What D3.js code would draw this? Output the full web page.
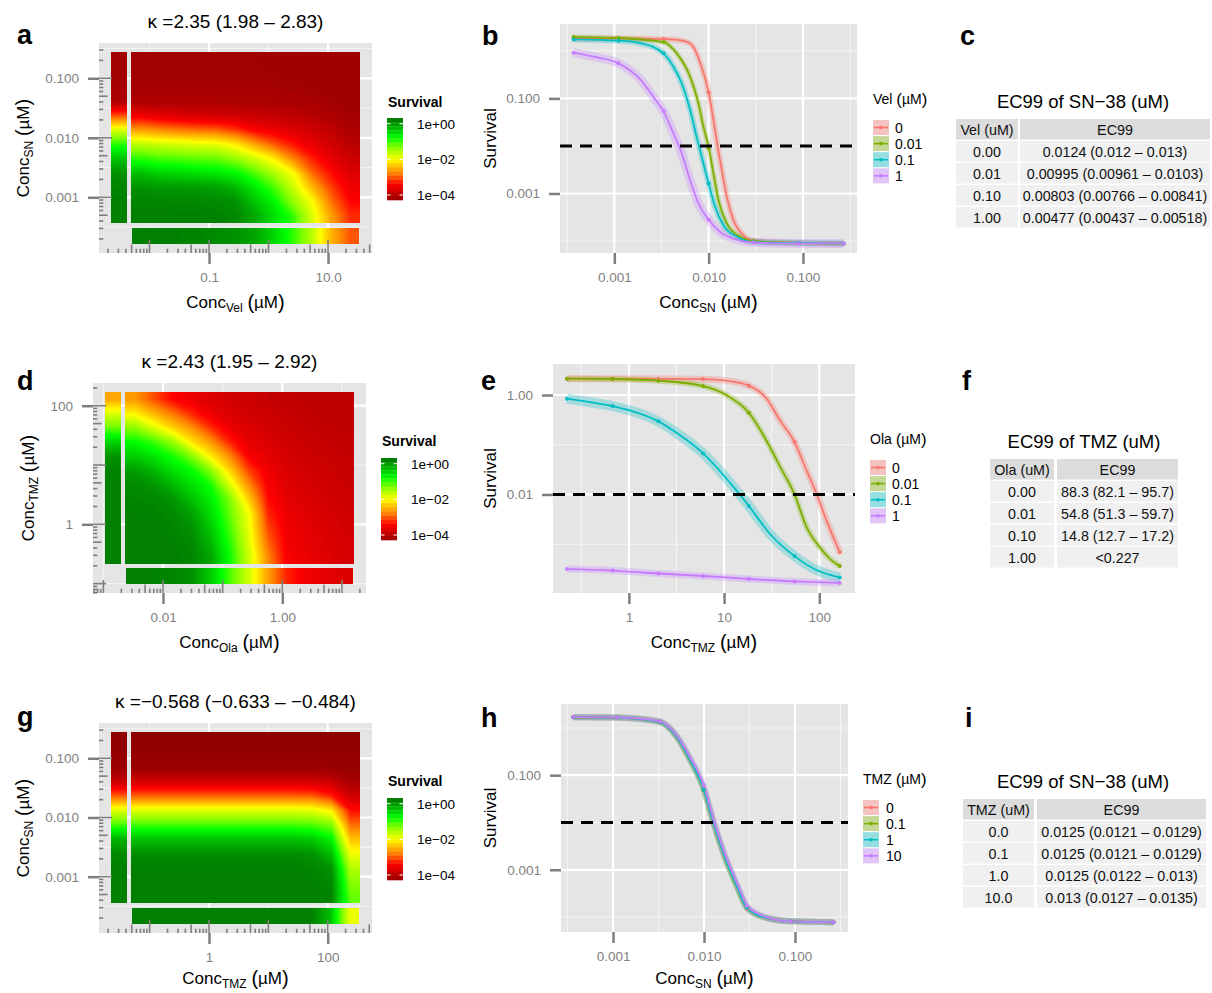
<!DOCTYPE html>
<html>
<head>
<meta charset="utf-8">
<script src="https://cdn.jsdelivr.net/npm/d3@7"></script>
<style>
  body { margin: 0; background: #fff; }
  text { font-family: "Liberation Sans", Arial, Helvetica, sans-serif; }
</style>
</head>
<body>
<svg id="fig" width="1212" height="993"></svg>
<script>
// ---------------- data ----------------
// heatmaps: log10(survival). rows = top (high conc) -> bottom, cols = left (low conc) -> right
var heatA = [
  [-4.2,-4.2,-4.2,-4.2,-4.2,-4.2,-4.22,-4.25,-4.25,-4.27,-4.28,-4.3],
  [-4.2,-4.2,-4.2,-4.2,-4.2,-4.2,-4.2,-4.22,-4.23,-4.25,-4.27,-4.3],
  [-4.17,-4.17,-4.17,-4.17,-4.17,-4.17,-4.17,-4.18,-4.2,-4.22,-4.25,-4.28],
  [-4.12,-4.12,-4.12,-4.12,-4.12,-4.12,-4.12,-4.12,-4.14,-4.16,-4.2,-4.25],
  [-3.5,-3.62,-3.68,-3.74,-3.78,-3.8,-3.87,-3.92,-3.96,-4.02,-4.1,-4.2],
  [-2.6,-2.7,-2.8,-2.87,-2.92,-3.12,-3.42,-3.54,-3.7,-3.8,-3.95,-4.1],
  [-1.6,-1.7,-1.75,-1.82,-1.87,-2.11,-2.55,-2.97,-3.3,-3.6,-3.8,-4.0],
  [-0.95,-1.05,-1.1,-1.15,-1.18,-1.4,-1.72,-2.1,-2.75,-3.25,-3.6,-3.85],
  [-0.3,-0.45,-0.5,-0.58,-0.62,-0.76,-1.1,-1.52,-2.0,-2.9,-3.35,-3.7],
  [0.05,0.0,0.0,-0.02,-0.05,-0.26,-0.65,-1.08,-1.7,-2.44,-3.1,-3.55],
  [0.15,0.15,0.13,0.12,0.1,0.05,-0.35,-0.75,-1.4,-2.0,-2.85,-3.4],
  [0.2,0.2,0.2,0.2,0.18,0.12,-0.12,-0.55,-1.0,-1.8,-2.6,-3.2]
];
var heatAVel0 = [-4.2,-4.2,-4.17,-4.1,-3.0,-1.76,-0.92,-0.32,0.05,0.15,0.2,0.2];
var heatASn0 = [0.2,0.2,0.18,0.15,0.1,0.05,-0.1,-0.48,-0.98,-1.6,-2.45,-3.0];

var heatD = [
  [-2.65,-3.03,-3.4,-3.55,-3.7,-3.8,-3.85,-3.9,-3.92,-3.95,-3.97,-3.98],
  [-2.06,-2.46,-2.84,-3.23,-3.55,-3.7,-3.8,-3.85,-3.9,-3.93,-3.95,-3.97],
  [-1.36,-1.8,-2.27,-2.69,-3.18,-3.55,-3.7,-3.8,-3.87,-3.9,-3.93,-3.95],
  [-0.78,-1.02,-1.42,-2.14,-2.63,-3.24,-3.6,-3.72,-3.82,-3.87,-3.9,-3.93],
  [-0.4,-0.59,-0.87,-1.31,-2.09,-2.73,-3.45,-3.62,-3.77,-3.83,-3.87,-3.9],
  [-0.03,-0.23,-0.54,-0.8,-1.34,-2.26,-3.1,-3.53,-3.72,-3.79,-3.84,-3.88],
  [0.1,0.03,-0.24,-0.56,-0.86,-1.78,-2.71,-3.45,-3.67,-3.75,-3.81,-3.86],
  [0.15,0.12,0.02,-0.31,-0.68,-1.3,-2.31,-3.35,-3.62,-3.71,-3.78,-3.83],
  [0.18,0.17,0.1,-0.07,-0.54,-1.19,-1.97,-3.22,-3.57,-3.67,-3.75,-3.81],
  [0.2,0.2,0.15,0.05,-0.39,-1.07,-1.9,-3.07,-3.53,-3.63,-3.72,-3.79],
  [0.2,0.2,0.18,0.12,-0.24,-0.95,-1.82,-2.92,-3.5,-3.6,-3.7,-3.77],
  [0.2,0.2,0.2,0.15,-0.1,-0.84,-1.72,-2.75,-3.47,-3.57,-3.67,-3.75]
];
var heatDOla0 = [-2.55,-1.8,-1.2,-0.45,0.05,0.15,0.2,0.2,0.2,0.2,0.2,0.2];
var heatDTmz0 = [0.2,0.18,0.15,0.05,-0.4,-1.1,-1.75,-2.6,-3.25,-3.5,-3.62,-3.7];

var heatG = [
  [-4.5,-4.5,-4.5,-4.5,-4.5,-4.5,-4.5,-4.5,-4.5,-4.5,-4.5,-4.5],
  [-4.45,-4.45,-4.45,-4.45,-4.45,-4.45,-4.45,-4.45,-4.45,-4.45,-4.45,-4.45],
  [-4.3,-4.3,-4.3,-4.3,-4.3,-4.3,-4.3,-4.3,-4.3,-4.3,-4.32,-4.38],
  [-3.77,-3.77,-3.77,-3.77,-3.77,-3.77,-3.77,-3.77,-3.77,-3.78,-3.85,-4.15],
  [-2.94,-2.94,-2.94,-2.94,-2.94,-2.94,-2.94,-2.94,-2.94,-2.97,-3.24,-3.8],
  [-1.82,-1.82,-1.82,-1.82,-1.82,-1.82,-1.82,-1.82,-1.82,-1.86,-2.12,-3.35],
  [-1.07,-1.07,-1.07,-1.07,-1.07,-1.07,-1.07,-1.07,-1.07,-1.12,-1.3,-2.9],
  [-0.33,-0.33,-0.33,-0.33,-0.33,-0.33,-0.33,-0.33,-0.33,-0.4,-0.72,-2.4],
  [0.08,0.08,0.08,0.08,0.08,0.08,0.08,0.08,0.08,0.02,-0.33,-1.95],
  [0.18,0.18,0.18,0.18,0.18,0.18,0.18,0.18,0.18,0.14,0.02,-1.6],
  [0.2,0.2,0.2,0.2,0.2,0.2,0.2,0.2,0.2,0.18,0.12,-1.35],
  [0.2,0.2,0.2,0.2,0.2,0.2,0.2,0.2,0.2,0.2,0.15,-1.2]
];
var heatGTmz0 = [-4.5,-4.45,-4.3,-3.85,-2.95,-1.82,-1.07,-0.2,0.1,0.2,0.2,0.2];
var heatGSn0 = [0.2,0.2,0.2,0.2,0.2,0.2,0.2,0.2,0.2,0.18,-0.3,-1.9];

// panel b: SN-38 dose response at four Vel levels (log10 conc, log10 survival)
var velLevels = ["0", "0.01", "0.1", "1"];
var bDoseLog = [-3.432, -2.955, -2.477, -2.0, -1.523, -1.046, -0.569];
var bMean0 = [0.255, 0.255, 0.248, -0.874, -4.0, -4.04, -4.05];
var bMean1 = [0.29, 0.27, 0.185, -2.05, -4.0, -4.04, -4.05];
var bMean2 = [0.24, 0.213, -0.053, -2.79, -4.02, -4.04, -4.05];
var bMean3 = [-0.04, -0.263, -1.267, -3.55, -4.03, -4.05, -4.05];
var bFit0 = [[-3.43,0.255],[-2.7,0.255],[-2.4,0.24],[-2.232,0.19],[-2.161,0.08],[-2.09,-0.25],[-2.0,-0.874],[-1.949,-1.457],[-1.906,-2.0],[-1.86,-2.51],[-1.807,-3.07],[-1.737,-3.56],[-1.63,-3.88],[-1.52,-4.0],[-1.05,-4.04],[-0.57,-4.05]];
var bFit1 = [[-3.43,0.29],[-2.955,0.27],[-2.48,0.185],[-2.338,-0.053],[-2.196,-0.545],[-2.108,-1.105],[-2.055,-1.6],[-2.0,-2.02],[-1.949,-2.58],[-1.896,-3.14],[-1.807,-3.63],[-1.666,-3.91],[-1.52,-4.0],[-1.05,-4.04],[-0.57,-4.05]];
var bFit2 = [[-3.43,0.24],[-2.955,0.213],[-2.718,0.158],[-2.48,-0.053],[-2.373,-0.335],[-2.285,-0.684],[-2.196,-1.246],[-2.119,-1.878],[-2.055,-2.37],[-2.0,-2.79],[-1.931,-3.28],[-1.843,-3.67],[-1.701,-3.91],[-1.52,-4.02],[-1.05,-4.04],[-0.57,-4.05]];
var bFit3 = [[-3.43,-0.04],[-3.22,-0.124],[-2.955,-0.263],[-2.718,-0.615],[-2.586,-0.966],[-2.48,-1.267],[-2.373,-1.737],[-2.285,-2.158],[-2.196,-2.72],[-2.108,-3.21],[-2.0,-3.55],[-1.878,-3.81],[-1.701,-3.97],[-1.52,-4.03],[-1.05,-4.05],[-0.57,-4.05]];

// panel e: TMZ dose response at four Ola levels
var olaLevels = ["0", "0.01", "0.1", "1"];
var eDoseLog = [-0.65, -0.17, 0.31, 0.78, 1.26, 1.74, 2.215];
var eMean0 = [0.329, 0.329, 0.322, 0.322, 0.188, -0.947, -3.16];
var eMean1 = [0.329, 0.322, 0.289, 0.181, -0.356, -2.0, -3.44];
var eMean2 = [-0.074, -0.222, -0.53, -1.175, -2.23, -3.24, -3.67];
var eMean3 = [-3.5, -3.53, -3.59, -3.64, -3.7, -3.75, -3.78];
var eFit0 = [[-0.65,0.329],[0.3,0.325],[0.78,0.318],[1.025,0.289],[1.26,0.188],[1.445,-0.067],[1.585,-0.504],[1.74,-0.947],[1.865,-1.51],[1.97,-1.98],[2.075,-2.52],[2.215,-3.16]];
var eFit1 = [[-0.65,0.329],[-0.17,0.322],[0.31,0.289],[0.78,0.181],[1.025,0.0],[1.26,-0.356],[1.48,-1.04],[1.585,-1.43],[1.74,-2.0],[1.865,-2.65],[2.004,-3.06],[2.109,-3.29],[2.215,-3.44]];
var eFit2 = [[-0.65,-0.074],[-0.375,-0.155],[-0.17,-0.222],[0.31,-0.53],[0.535,-0.806],[0.78,-1.175],[1.025,-1.68],[1.26,-2.23],[1.48,-2.79],[1.74,-3.24],[1.97,-3.52],[2.215,-3.67]];
var eFit3 = [[-0.65,-3.5],[-0.17,-3.53],[0.31,-3.59],[0.78,-3.64],[1.26,-3.7],[1.74,-3.75],[2.215,-3.78]];

// panel h: SN-38 dose response at four TMZ levels
var tmzLevels = ["0", "0.1", "1", "10"];
var hDoseLog = [-3.437, -2.96, -2.49, -2.006, -1.53, -1.05, -0.575];
var hMean0 = [0.225, 0.218, 0.132, -1.3, -3.82, -4.09, -4.11];
var hMean1 = [0.225, 0.218, 0.13, -1.31, -3.8, -4.09, -4.11];
var hMean2 = [0.225, 0.218, 0.13, -1.31, -3.8, -4.09, -4.11];
var hMean3 = [0.23, 0.22, 0.14, -1.2, -3.76, -4.09, -4.11];
var hFit0 = [[-3.437,0.225],[-2.96,0.218],[-2.49,0.132],[-2.3,-0.185],[-2.152,-0.677],[-2.006,-1.275],[-1.896,-2.0],[-1.786,-2.648],[-1.638,-3.35],[-1.53,-3.8],[-1.308,-4.02],[-1.05,-4.09],[-0.575,-4.11]];
var hFit1 = [[-3.437,0.225],[-2.96,0.218],[-2.49,0.13],[-2.3,-0.19],[-2.152,-0.685],[-2.006,-1.285],[-1.896,-2.01],[-1.786,-2.66],[-1.638,-3.36],[-1.53,-3.8],[-1.308,-4.02],[-1.05,-4.09],[-0.575,-4.11]];
var hFit2 = [[-3.437,0.225],[-2.96,0.218],[-2.49,0.13],[-2.3,-0.188],[-2.152,-0.68],[-2.006,-1.28],[-1.896,-2.0],[-1.786,-2.65],[-1.638,-3.35],[-1.53,-3.8],[-1.308,-4.02],[-1.05,-4.09],[-0.575,-4.11]];
var hFit3 = [[-3.437,0.23],[-2.96,0.222],[-2.49,0.14],[-2.3,-0.16],[-2.152,-0.63],[-2.006,-1.2],[-1.886,-2.0],[-1.776,-2.64],[-1.628,-3.33],[-1.52,-3.78],[-1.3,-4.01],[-1.05,-4.09],[-0.575,-4.11]];

// tables
var tabCHead = ["Vel (uM)", "EC99"];
var tabCDose = ["0.00", "0.01", "0.10", "1.00"];
var tabCEc99 = ["0.0124 (0.012 \u2013 0.013)", "0.00995 (0.00961 \u2013 0.0103)", "0.00803 (0.00766 \u2013 0.00841)", "0.00477 (0.00437 \u2013 0.00518)"];
var tabFHead = ["Ola (uM)", "EC99"];
var tabFDose = ["0.00", "0.01", "0.10", "1.00"];
var tabFEc99 = ["88.3 (82.1 \u2013 95.7)", "54.8 (51.3 \u2013 59.7)", "14.8 (12.7 \u2013 17.2)", "<0.227"];
var tabIHead = ["TMZ (uM)", "EC99"];
var tabIDose = ["0.0", "0.1", "1.0", "10.0"];
var tabIEc99 = ["0.0125 (0.0121 \u2013 0.0129)", "0.0125 (0.0121 \u2013 0.0129)", "0.0125 (0.0122 \u2013 0.013)", "0.013 (0.0127 \u2013 0.0135)"];

var kappaA = "\u03ba =2.35 (1.98 \u2013 2.83)";
var kappaD = "\u03ba =2.43 (1.95 \u2013 2.92)";
var kappaG = "\u03ba =\u22120.568 (\u22120.633 \u2013 \u22120.484)";
var colorbarTicks = [0, -2, -4];
var colorbarLabels = ["1e+00", "1e\u221202", "1e\u221204"];

// ---------------- drawing ----------------
var P10 = function(v) { return Math.pow(10, v); };
var hue = ["#F8766D", "#7CAE00", "#00BFC4", "#C77CFF"];
var GREY = "#7f7f7f";
var survColor = d3.scaleLinear()
  .domain([-4.5, -4.2, -3.4, -2.8, -2.0, -1.3, -0.8, 0.2])
  .range(["#900000", "#a30000", "#ff0000", "#ff8000", "#ffff00", "#80ff00", "#00ff00", "#007f00"])
  .clamp(true);

var svg = d3.select("#fig");
svg.append("rect").attr("width", 1212).attr("height", 993).attr("fill", "#fff");
var defs = svg.append("defs");
var clipId = 0;

function scales(c) {
  var x = d3.scaleLog().domain([P10(c.xd[0]), P10(c.xd[1])]).range([c.box[0], c.box[2]]);
  var y = d3.scaleLog().domain([P10(c.yd[1]), P10(c.yd[0])]).range([c.box[3], c.box[1]]);
  return [x, y];
}

function frame(g, x, y, c) {
  var b = c.box;
  g.append("rect").attr("x", b[0]).attr("y", b[1]).attr("width", b[2] - b[0]).attr("height", b[3] - b[1]).attr("fill", "#e5e5e5");
  var inX = function(v) { return x(v) > b[0] && x(v) < b[2]; };
  var inY = function(v) { return y(v) > b[1] && y(v) < b[3]; };
  [[c.xMinor, c.yMinor, "#f4f4f4", 1.1], [c.xt, c.yt, "#fff", 2.2]].forEach(function(s) {
    g.selectAll(null).data(s[0].filter(inX)).join("line")
      .attr("x1", x).attr("x2", x).attr("y1", b[1]).attr("y2", b[3])
      .attr("stroke", s[2]).attr("stroke-width", s[3]);
    g.selectAll(null).data(s[1].filter(inY)).join("line")
      .attr("y1", y).attr("y2", y).attr("x1", b[0]).attr("x2", b[2])
      .attr("stroke", s[2]).attr("stroke-width", s[3]);
  });
}

function axes(g, x, y, c) {
  var ax = g.append("g").attr("transform", "translate(0," + c.box[3] + ")")
    .call(d3.axisBottom(x).tickValues(c.xt).tickFormat(function(d, i) { return c.xl[i]; }).tickSize(11).tickPadding(8));
  var ay = g.append("g").attr("transform", "translate(" + c.box[0] + ",0)")
    .call(d3.axisLeft(y).tickValues(c.yt).tickFormat(function(d, i) { return c.yl[i]; }).tickSize(11).tickPadding(9));
  [ax, ay].forEach(function(a) {
    a.select(".domain").remove();
    a.selectAll("line").attr("stroke", GREY).attr("stroke-width", 2.5);
    a.selectAll("text").attr("fill", GREY).attr("font-size", 13.5)
      .attr("font-family", '"Liberation Sans", Arial, sans-serif');
  });
}

function concLabel(g, cx, cy, sub, rot) {
  var t = g.append("text").attr("text-anchor", "middle").attr("font-size", 17).attr("fill", "#000");
  if (rot) t.attr("transform", "translate(" + cx + "," + cy + ") rotate(-90)");
  else t.attr("x", cx).attr("y", cy);
  t.append("tspan").text("Conc");
  t.append("tspan").attr("font-size", 12).attr("dy", 4).text(sub);
  t.append("tspan").attr("dy", -4).text(" ");
  t.append("tspan").attr("font-size", 20).attr("dy", 1).text("(");
  t.append("tspan").attr("dy", -1).text("\u00b5M");
  t.append("tspan").attr("font-size", 20).attr("dy", 1).text(")");
}

function parenTitle(g, x, y, name, size) {
  var t = g.append("text").attr("x", x).attr("y", y).attr("font-size", size).attr("fill", "#000");
  t.append("tspan").text(name + " ");
  t.append("tspan").attr("font-size", size * 1.2).attr("dy", 1).text("(");
  t.append("tspan").attr("dy", -1).text("\u00b5M");
  t.append("tspan").attr("font-size", size * 1.2).attr("dy", 1).text(")");
}

function letter(txt, x, y) {
  svg.append("text").attr("x", x).attr("y", y).attr("font-size", 27).attr("font-weight", "bold").text(txt);
}

// smooth survival surface drawn as stacked filled contours of the read grid
function heat(g, grid, x, y, xl, yl) {
  var m = grid.length, n = grid[0].length;
  // repeat the edge cells once so the contours do not cut the corners, then clip
  var padded = [grid[0]].concat(grid, [grid[m - 1]]).map(function(r) {
    return [r[0]].concat(r, [r[r.length - 1]]);
  });
  var proj = d3.geoTransform({ point: function(px, py) {
    this.stream.point(x(P10(xl[0] + (xl[1] - xl[0]) * (px - 1) / n)), y(P10(yl[0] + (yl[1] - yl[0]) * (py - 1) / m)));
  }});
  var path = d3.geoPath(proj);
  var id = "clip" + (clipId++);
  var x0 = x(P10(xl[0])), x1 = x(P10(xl[1])), y0 = y(P10(yl[0])), y1 = y(P10(yl[1]));
  defs.append("clipPath").attr("id", id).append("rect")
    .attr("x", Math.min(x0, x1)).attr("y", Math.min(y0, y1))
    .attr("width", Math.abs(x1 - x0)).attr("height", Math.abs(y1 - y0));
  var cs = d3.contours().size([n + 2, m + 2]).thresholds(d3.range(-4.62, 0.36, 0.04))(padded.flat());
  g.append("g").attr("clip-path", "url(#" + id + ")").selectAll("path").data(cs).join("path")
    .attr("d", path).attr("fill", function(d) { return survColor(d.value + 0.02); });
}

function logticks(g, x, y, c) {
  var b = c.box, segs = [];
  var len = function(k) { return k === 1 ? 13 : (k === 5 ? 8.6 : 4.3); };
  for (var n = Math.floor(c.xd[0]); n <= Math.ceil(c.xd[1]); n++) {
    for (var k = 1; k <= 9; k++) {
      var px = x(k * P10(n));
      if (px >= b[0] && px <= b[2]) segs.push([px, b[3], px, b[3] - len(k)]);
    }
  }
  for (var n2 = Math.floor(c.yd[1]); n2 <= Math.ceil(c.yd[0]); n2++) {
    for (var k2 = 1; k2 <= 9; k2++) {
      var py = y(k2 * P10(n2));
      if (py >= b[1] && py <= b[3]) segs.push([b[0], py, b[0] + len(k2), py]);
    }
  }
  g.selectAll(null).data(segs).join("line")
    .attr("x1", function(d) { return d[0]; }).attr("y1", function(d) { return d[1]; })
    .attr("x2", function(d) { return d[2]; }).attr("y2", function(d) { return d[3]; })
    .attr("stroke", GREY).attr("stroke-width", 1.6);
}

function colorbar(c) {
  var g = svg.append("g");
  g.append("text").attr("x", c.tx).attr("y", c.ty).attr("font-size", 14).attr("font-weight", "bold").text("Survival");
  var s = d3.scaleLinear().domain([0.32, -4.28]).range([c.top, c.bot]);
  var bins = d3.range(20).map(function(i) { return 0.32 - (i + 0.5) * 4.6 / 20; });
  var h = (c.bot - c.top) / 20;
  g.selectAll(null).data(bins).join("rect")
    .attr("x", c.x).attr("y", function(d, i) { return c.top + i * h; })
    .attr("width", 16).attr("height", h + 0.3).attr("fill", survColor);
  colorbarTicks.forEach(function(v, i) {
    g.append("line").attr("x1", c.x).attr("x2", c.x + 3.5).attr("y1", s(v)).attr("y2", s(v)).attr("stroke", "#fff").attr("stroke-width", 1);
    g.append("line").attr("x1", c.x + 12.5).attr("x2", c.x + 16).attr("y1", s(v)).attr("y2", s(v)).attr("stroke", "#fff").attr("stroke-width", 1);
    g.append("text").attr("x", c.lx).attr("y", s(v)).attr("dy", "0.36em").attr("font-size", 13.5).text(colorbarLabels[i]);
  });
}

function heatPanel(c) {
  var g = svg.append("g");
  var sc = scales(c), x = sc[0], y = sc[1];
  frame(g, x, y, c);
  heat(g, c.main, x, y, c.mainX, c.mainY);
  heat(g, c.stripL.map(function(v) { return [v, v]; }), x, y, c.stripLX, c.mainY);
  heat(g, [c.stripB, c.stripB], x, y, c.stripBX, c.stripBY);
  logticks(g, x, y, c);
  axes(g, x, y, c);
  var cx = (c.box[0] + c.box[2]) / 2, cy = (c.box[1] + c.box[3]) / 2;
  g.append("text").attr("x", cx).attr("y", c.box[1] - 15).attr("text-anchor", "middle").attr("font-size", 19).text(c.title);
  concLabel(g, cx, c.box[3] + c.xlabDy, c.xsub, false);
  concLabel(g, c.ylabX, cy, c.ysub, true);
  colorbar(c.cb);
}

function curvePanel(c) {
  var g = svg.append("g");
  var sc = scales(c), x = sc[0], y = sc[1];
  frame(g, x, y, c);
  var line = d3.line().x(function(d) { return x(P10(d[0])); }).y(function(d) { return y(P10(d[1])); }).curve(d3.curveMonotoneX);
  c.fits.forEach(function(f, i) {
    g.append("path").attr("d", line(f)).attr("fill", "none").attr("stroke", hue[i])
      .attr("stroke-opacity", 0.28).attr("stroke-width", c.band[i]);
  });
  c.fits.forEach(function(f, i) {
    g.append("path").attr("d", line(f)).attr("fill", "none").attr("stroke", hue[i]).attr("stroke-width", 1.8);
  });
  c.means.forEach(function(ms, i) {
    g.selectAll(null).data(ms).join("circle")
      .attr("cx", function(d, k) { return x(P10(c.dose[k])); })
      .attr("cy", function(d) { return y(P10(d)); })
      .attr("r", 2).attr("fill", hue[i]);
  });
  g.append("line").attr("x1", c.box[0]).attr("x2", c.box[2]).attr("y1", y(0.01)).attr("y2", y(0.01))
    .attr("stroke", "#000").attr("stroke-width", 3).attr("stroke-dasharray", "12,8");
  axes(g, x, y, c);
  var cx = (c.box[0] + c.box[2]) / 2, cy = (c.box[1] + c.box[3]) / 2;
  concLabel(g, cx, c.box[3] + c.xlabDy, c.xsub, false);
  g.append("text").attr("transform", "translate(496," + cy + ") rotate(-90)")
    .attr("text-anchor", "middle").attr("font-size", 17).text("Survival");
  // legend
  var L = c.leg;
  parenTitle(g, L.x, L.ty, c.legTitle, 14);
  c.levels.forEach(function(lab, i) {
    var ky = L.y + i * 16.1;
    g.append("rect").attr("x", L.x).attr("y", ky).attr("width", 16).attr("height", 15).attr("fill", "#f2f2f2");
    g.append("rect").attr("x", L.x).attr("y", ky).attr("width", 16).attr("height", 15).attr("fill", hue[i]).attr("fill-opacity", 0.38);
    g.append("line").attr("x1", L.x + 1).attr("x2", L.x + 15).attr("y1", ky + 7.5).attr("y2", ky + 7.5).attr("stroke", hue[i]).attr("stroke-width", 1.6);
    g.append("circle").attr("cx", L.x + 8).attr("cy", ky + 7.5).attr("r", 1.8).attr("fill", hue[i]);
    g.append("text").attr("x", L.lx).attr("y", ky + 7.5).attr("dy", "0.36em").attr("font-size", 14).text(lab);
  });
}

function table(cx, ty, title, cols, top, head, c1, c2) {
  var g = svg.append("g");
  g.append("text").attr("x", cx).attr("y", ty).attr("text-anchor", "middle").attr("font-size", 18.5).text(title);
  var rows = [head].concat(c1.map(function(d, i) { return [d, c2[i]]; }));
  rows.forEach(function(r, i) {
    var ry = top + i * 22;
    cols.forEach(function(cc, j) {
      g.append("rect").attr("x", cc[0]).attr("y", ry).attr("width", cc[1]).attr("height", 20.5)
        .attr("fill", i === 0 ? "#dcdcdc" : "#f0f0f0");
      g.append("text").attr("x", cc[0] + cc[1] / 2).attr("y", ry + 10.5).attr("dy", "0.36em")
        .attr("text-anchor", "middle").attr("font-size", 14.3).attr("fill", "#111").text(r[j]);
    });
  });
}

var snTicks = [0.001, 0.01, 0.1], snLabels = ["0.001", "0.010", "0.100"];
var snMinor = [-4.5, -3.5, -2.5, -1.5, -0.5].map(P10);

heatPanel({
  box: [99, 43, 372, 253], xd: [-2.849, 1.739], yd: [-0.407, -3.936],
  mainX: [-2.311, 1.538], mainY: [-0.558, -3.432], stripLX: [-2.647, -2.378],
  stripBX: [-2.294, 1.521], stripBY: [-3.516, -3.785],
  main: heatA, stripL: heatAVel0, stripB: heatASn0,
  xt: [0.1, 10], xl: ["0.1", "10.0"], yt: snTicks, yl: snLabels,
  xMinor: [0.01, 1, 100], yMinor: snMinor,
  title: kappaA, xsub: "Vel", ysub: "SN", ylabX: 29, xlabDy: 55,
  cb: { x: 387, top: 118, bot: 200, tx: 388, ty: 107, lx: 417 }
});
heatPanel({
  box: [93, 383, 366, 593], xd: [-3.174, 1.403], yd: [2.383, -1.158],
  mainX: [-2.637, 1.202], mainY: [2.231, -0.669], stripLX: [-2.972, -2.704],
  stripBX: [-2.62, 1.185], stripBY: [-0.737, -1.006],
  main: heatD, stripL: heatDOla0, stripB: heatDTmz0,
  xt: [0.01, 1], xl: ["0.01", "1.00"], yt: [1, 100], yl: ["1", "100"],
  xMinor: [0.001, 0.1, 10], yMinor: [0.1, 10, 1000],
  title: kappaD, xsub: "Ola", ysub: "TMZ", ylabX: 34, xlabDy: 55,
  cb: { x: 381, top: 458, bot: 540, tx: 382, ty: 446, lx: 411 }
});
heatPanel({
  box: [99, 723, 372, 933], xd: [-1.853, 2.746], yd: [-0.404, -3.951],
  mainX: [-1.314, 2.544], mainY: [-0.556, -3.444], stripLX: [-1.651, -1.382],
  stripBX: [-1.297, 2.527], stripBY: [-3.528, -3.799],
  main: heatG, stripL: heatGTmz0, stripB: heatGSn0,
  xt: [1, 100], xl: ["1", "100"], yt: snTicks, yl: snLabels,
  xMinor: [0.1, 10, 1000], yMinor: snMinor,
  title: kappaG, xsub: "TMZ", ysub: "SN", ylabX: 29, xlabDy: 51,
  cb: { x: 387, top: 798, bot: 880, tx: 388, ty: 786, lx: 417 }
});

var survTicks = [0.001, 0.1], survLabels = ["0.001", "0.100"];
curvePanel({
  box: [560, 24, 857, 253], xd: [-3.576, -0.427], yd: [0.564, -4.251],
  xt: snTicks, xl: snLabels, yt: survTicks, yl: survLabels,
  xMinor: [-3.5, -2.5, -1.5, -0.5].map(P10), yMinor: [1e-4, 0.01, 1],
  dose: bDoseLog, means: [bMean0, bMean1, bMean2, bMean3], fits: [bFit0, bFit1, bFit2, bFit3],
  band: [6, 5, 6, 9], xsub: "SN", levels: velLevels, legTitle: "Vel", xlabDy: 55,
  leg: { x: 873, y: 120, ty: 104, lx: 895 }
});
curvePanel({
  box: [553, 364, 855, 593], xd: [-0.797, 2.375], yd: [0.624, -3.982],
  xt: [1, 10, 100], xl: ["1", "10", "100"], yt: [0.01, 1], yl: ["0.01", "1.00"],
  xMinor: [-0.5, 0.5, 1.5, 2.5].map(P10), yMinor: [0.001, 0.1, 10],
  dose: eDoseLog, means: [eMean0, eMean1, eMean2, eMean3], fits: [eFit0, eFit1, eFit2, eFit3],
  band: [7, 6, 10, 7], xsub: "TMZ", levels: olaLevels, legTitle: "Ola", xlabDy: 55,
  leg: { x: 870, y: 460, ty: 444, lx: 892 }
});
curvePanel({
  box: [561, 704, 848, 932], xd: [-3.572, -0.417], yd: [0.506, -4.316],
  xt: snTicks, xl: snLabels, yt: survTicks, yl: survLabels,
  xMinor: [-3.5, -2.5, -1.5, -0.5].map(P10), yMinor: [1e-4, 0.01, 1],
  dose: hDoseLog, means: [hMean0, hMean1, hMean2, hMean3], fits: [hFit0, hFit1, hFit2, hFit3],
  band: [6, 6, 6, 6], xsub: "SN", levels: tmzLevels, legTitle: "TMZ", xlabDy: 52,
  leg: { x: 863, y: 800, ty: 784, lx: 886 }
});

table(1083, 108, "EC99 of SN\u221238 (uM)", [[956, 62], [1020, 190]], 119, tabCHead, tabCDose, tabCEc99);
table(1084, 448, "EC99 of TMZ (uM)", [[990, 64], [1057, 121]], 459, tabFHead, tabFDose, tabFEc99);
table(1083, 788, "EC99 of SN\u221238 (uM)", [[963, 71], [1037, 169]], 799, tabIHead, tabIDose, tabIEc99);

letter("a", 17, 44); letter("b", 482, 45); letter("c", 960, 45);
letter("d", 17, 390); letter("e", 481, 390); letter("f", 962, 390);
letter("g", 17, 726); letter("h", 481, 727); letter("i", 965, 727);
</script>
</body>
</html>
